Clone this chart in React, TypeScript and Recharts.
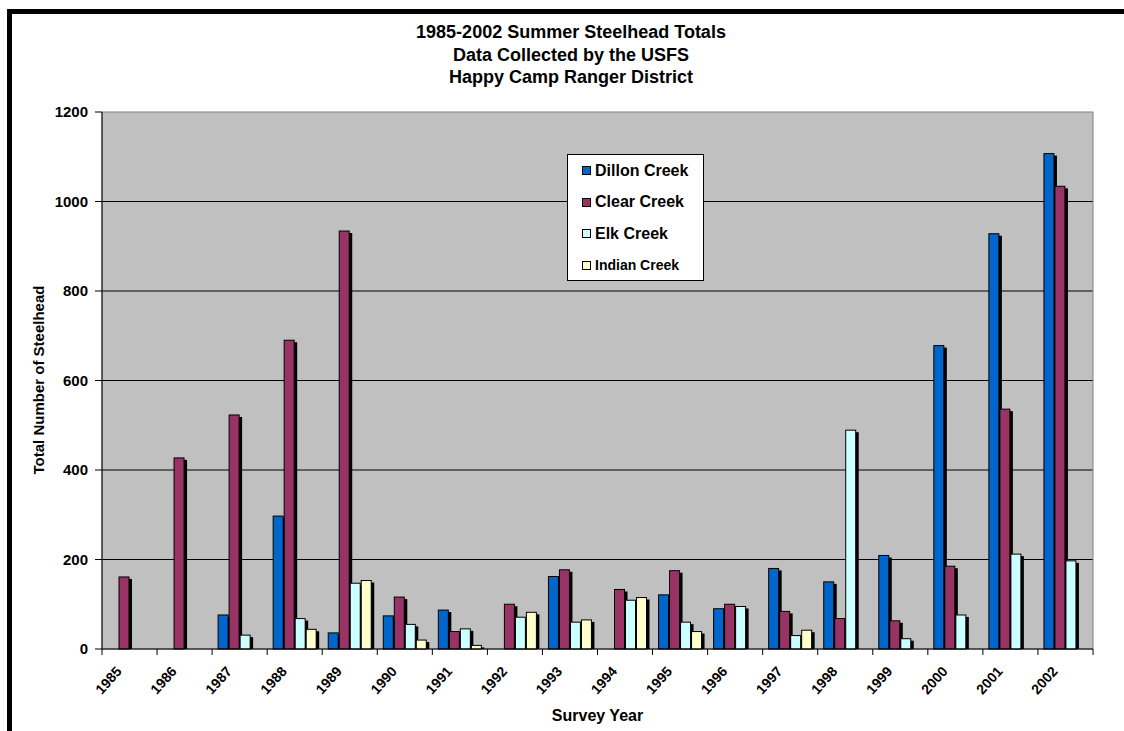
import {
  BarChart, Bar, XAxis, YAxis, CartesianGrid, Legend, ReferenceArea,
} from 'recharts'

const YEARS = ['1985', '1986', '1987', '1988', '1989', '1990', '1991', '1992', '1993',
  '1994', '1995', '1996', '1997', '1998', '1999', '2000', '2001', '2002']
const DILLON = [null, null, 76, 297, 36, 74, 87, null, 162, null, 121, 90, 180, 150, 209, 678, 928, 1107]
const CLEAR = [161, 427, 523, 690, 934, 116, 39, 100, 177, 133, 175, 100, 84, 68, 63, 185, 536, 1034]
const ELK = [null, null, 31, 68, 147, 55, 45, 71, 60, 109, 60, 95, 30, 489, 23, 76, 212, 197]
const INDIAN = [null, null, null, 44, 153, 20, 8, 82, 65, 115, 39, null, 42, null, null, null, null, null]
const Y_TICKS = [0, 200, 400, 600, 800, 1000, 1200]

const SERIES = [
  { key: 'Dillon Creek', color: '#0066CC', size: 16 },
  { key: 'Clear Creek', color: '#993366', size: 16 },
  { key: 'Elk Creek', color: '#CCFFFF', size: 16 },
  { key: 'Indian Creek', color: '#FFFFCC', size: 14 },
]

const FONT = '"Liberation Sans", Arial, sans-serif'
const W = 1124
const H = 731
const M = { top: 112, right: 31, bottom: 0, left: 0 }
const Y_W = 102
const X_H = 82
const BAND = (W - M.left - M.right - Y_W) / YEARS.length

const data = YEARS.map((year, i) => ({
  year,
  'Dillon Creek': DILLON[i],
  'Clear Creek': CLEAR[i],
  'Elk Creek': ELK[i],
  'Indian Creek': INDIAN[i],
}))

// Excel-style bar: thin black outline plus a black drop shadow down/right
const ShadowBar = (props: any) => {
  const { x, y, width, height, fill } = props
  if (!height || height <= 0) return null
  return (
    <g>
      <rect x={x + 3} y={y + 2} width={width} height={Math.max(height - 2, 0)} fill="#000" />
      <rect x={x} y={y} width={width} height={height} fill={fill} stroke="#000" strokeWidth={1} />
    </g>
  )
}

const YearTick = (props: any) => {
  const { x, y, payload, index } = props
  const tx = x - 7
  const ty = y + 23
  return (
    <g>
      <line x1={x - BAND / 2} x2={x - BAND / 2} y1={y} y2={y + 6} stroke="#000" />
      {index === YEARS.length - 1 && (
        <line x1={x + BAND / 2} x2={x + BAND / 2} y1={y} y2={y + 6} stroke="#000" />
      )}
      <text
        x={tx}
        y={ty}
        transform={`rotate(-48 ${tx} ${ty})`}
        textAnchor="end"
        fontFamily={FONT}
        fontWeight="bold"
        fontSize={14}
        fill="#000"
      >
        {payload.value}
      </text>
    </g>
  )
}

const LegendBox = () => (
  <div
    style={{
      width: 137, height: 127, boxSizing: 'border-box',
      background: '#fff', border: '1px solid #000',
      fontFamily: FONT, fontWeight: 'bold', color: '#000',
      padding: '0 0 0 14px',
    }}
  >
    {SERIES.map((s) => (
      <div key={s.key} style={{ display: 'flex', alignItems: 'center', height: 31.5 }}>
        <span
          style={{
            width: 9, height: 9, background: s.color, border: '1px solid #000',
            boxSizing: 'border-box', marginRight: 4, flexShrink: 0,
          }}
        />
        <span style={{ fontSize: s.size, whiteSpace: 'nowrap' }}>{s.key}</span>
      </div>
    ))}
  </div>
)

export default function App() {
  return (
    <div style={{ position: 'absolute', left: 0, top: 0, width: W, height: H, background: '#fff', overflow: 'hidden' }}>
      <div style={{ position: 'absolute', left: 7, top: 9, width: W - 7, height: 5, background: '#000' }} />
      <div style={{ position: 'absolute', left: 7, top: 9, width: 5, height: H - 9, background: '#000' }} />
      <div
        style={{
          position: 'absolute', left: 0, top: 21, width: 1142, textAlign: 'center',
          fontFamily: FONT, fontWeight: 'bold', fontSize: 18, lineHeight: '22.5px', color: '#000',
        }}
      >
        <div>1985-2002 Summer Steelhead Totals</div>
        <div>Data Collected by the USFS</div>
        <div>Happy Camp Ranger District</div>
      </div>
      <BarChart
        width={W}
        height={H}
        data={data}
        margin={M}
        barSize={10}
        barGap={1}
        style={{ position: 'absolute', left: 0, top: 0 }}
      >
        <CartesianGrid
          vertical={false}
          horizontalValues={[200, 400, 600, 800, 1000]}
          stroke="#000"
          fill="#C0C0C0"
          fillOpacity={1}
        />
        <ReferenceArea y1={0} y2={1200} fill="none" stroke="#808080" ifOverflow="visible" />
        <XAxis
          dataKey="year"
          interval={0}
          height={X_H}
          tickSize={0}
          tickMargin={0}
          tickLine={false}
          axisLine={{ stroke: '#000' }}
          tick={<YearTick />}
          label={{
            value: 'Survey Year',
            position: 'insideBottom',
            offset: 10,
            style: { fontFamily: FONT, fontWeight: 'bold', fontSize: 16, fill: '#000' },
          }}
        />
        <YAxis
          width={Y_W}
          domain={[0, 1200]}
          ticks={Y_TICKS}
          interval={0}
          tickSize={7}
          tickMargin={7}
          axisLine={{ stroke: '#000' }}
          tickLine={{ stroke: '#000' }}
          tick={{ fontFamily: FONT, fontWeight: 'bold', fontSize: 15, fill: '#000' }}
          label={{
            content: () => (
              <text
                x={38}
                y={380}
                transform="rotate(-90 38 380)"
                textAnchor="middle"
                dominantBaseline="central"
                fontFamily={FONT}
                fontWeight="bold"
                fontSize={15}
                fill="#000"
              >
                Total Number of Steelhead
              </text>
            ),
          }}
        />
        <Legend
          layout="vertical"
          align="center"
          verticalAlign="middle"
          content={<LegendBox />}
          wrapperStyle={{ left: 567, top: 154, width: 137, height: 127 }}
        />
        {SERIES.map((s) => (
          <Bar
            key={s.key}
            dataKey={s.key}
            fill={s.color}
            shape={<ShadowBar />}
            isAnimationActive={false}
          />
        ))}
      </BarChart>
    </div>
  )
}
